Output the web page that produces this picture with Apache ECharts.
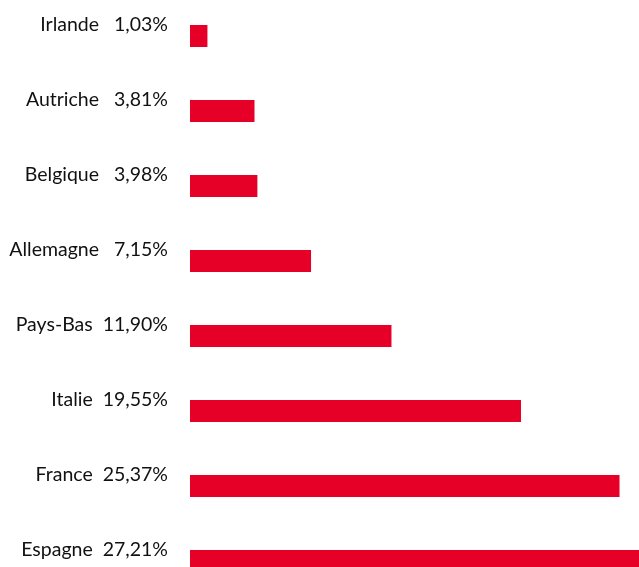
<!DOCTYPE html>
<html><head><meta charset="utf-8">
<script src="https://cdn.jsdelivr.net/npm/echarts@6/dist/echarts.min.js"></script>
<style>html,body{margin:0;padding:0;background:#fff}#c{width:639px;height:567px}</style>
</head><body><div id="c"></div>
<script>
var categories = ['Irlande','Autriche','Belgique','Allemagne','Pays-Bas','Italie','France','Espagne'];
var values = [1.03, 3.81, 3.98, 7.15, 11.90, 19.55, 25.37, 27.21];

function fmt(v){ return v.toFixed(2).replace('.', ',') + '%'; }

var chart = echarts.init(document.getElementById('c'));
chart.setOption({
  animation: false,
  grid: { left: 190, width: 449, top: -1.5, height: 600, containLabel: false, outerBoundsMode: 'none' },
  xAxis: { type: 'value', min: 0, max: 26.52, show: false },
  yAxis: { type: 'category', data: categories, inverse: true, show: false },
  series: [{
    type: 'bar',
    data: values,
    barWidth: 22,
    clip: true,
    itemStyle: { color: '#E60028' },
    label: {
      show: true,
      position: 'left',
      distance: 22,
      offset: [0, -11],
      color: '#111111',
      fontFamily: 'Lato',
      fontSize: 19.5,
      formatter: function(p){
        var v = values[p.dataIndex];
        return categories[p.dataIndex] + (v < 10 ? '   ' : '  ') + fmt(v);
      }
    }
  }]
});
</script></body></html>
